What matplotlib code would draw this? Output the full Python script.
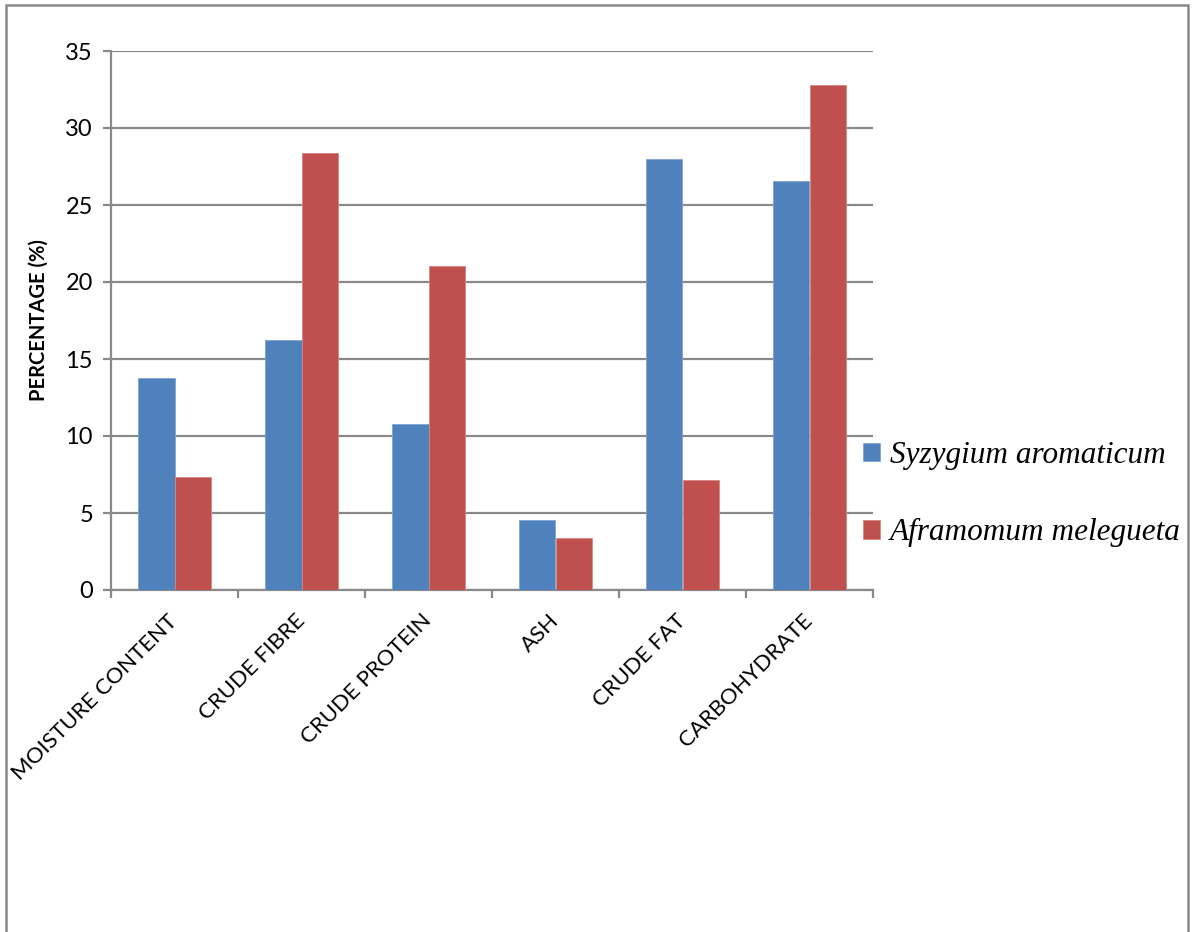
import matplotlib

matplotlib.use("Agg")
import matplotlib.pyplot as plt
import numpy as np
from matplotlib.patches import Rectangle

# proximate composition, % dry matter
CATEGORIES = ["MOISTURE CONTENT", "CRUDE FIBRE", "CRUDE PROTEIN", "ASH",
              "CRUDE FAT", "CARBOHYDRATE"]
SYZYGIUM = [13.75, 16.22, 10.78, 4.55, 27.98, 26.56]
AFRAMOMUM = [7.33, 28.35, 21.05, 3.35, 7.15, 32.78]
SERIES = ["Syzygium aromaticum", "Aframomum melegueta"]
COLOURS = ["#4F81BD", "#C0504D"]
GRID = "#898989"

plt.rcParams["font.family"] = ["Lato", "DejaVu Sans"]

W, H = 1194, 932
fig = plt.figure(figsize=(W / 100, H / 100), dpi=100)
ax = fig.add_axes([111 / W, 1 - 590 / H, (873 - 111) / W, (590 - 51) / H])

x = np.arange(len(CATEGORIES))
bw = 0.287
ax.bar(x - bw / 2, SYZYGIUM, bw, color=COLOURS[0], label=SERIES[0],
       edgecolor="#7fa3d0", linewidth=0.6, zorder=3)
ax.bar(x + bw / 2, AFRAMOMUM, bw, color=COLOURS[1], label=SERIES[1],
       edgecolor="#d68583", linewidth=0.6, zorder=3)

ax.set_xlim(-0.5, len(CATEGORIES) - 0.5)
ax.set_ylim(0, 35)
ax.set_yticks(range(0, 36, 5))
ax.yaxis.grid(True, color=GRID, lw=1.6, zorder=0)
ax.set_axisbelow(True)
for s in ("top", "right"):
    ax.spines[s].set_visible(False)
for s in ("left", "bottom"):
    ax.spines[s].set_color(GRID)
    ax.spines[s].set_linewidth(1.6)

ax.tick_params(axis="y", length=6, width=1.6, color=GRID, labelsize=17, pad=7)
ax.set_xticks(x)
ax.set_xticklabels(CATEGORIES, rotation=45, ha="right", va="center",
                   rotation_mode="anchor", fontsize=16)
ax.tick_params(axis="x", which="major", length=0, pad=20)
ax.set_xticks(np.arange(-0.5, len(CATEGORIES)), minor=True)
ax.tick_params(axis="x", which="minor", length=6, width=1.6, color=GRID)

ax.set_ylabel("PERCENTAGE (%)", fontsize=14.5, fontweight="bold", labelpad=12)

leg = ax.legend(loc="upper left", bbox_to_anchor=(863 / W, 1 - 441 / H),
                bbox_transform=fig.transFigure, frameon=False, borderpad=0,
                borderaxespad=0, handlelength=0.55, handleheight=0.55,
                handletextpad=0.3, labelspacing=1.55,
                prop={"family": "Liberation Serif", "style": "italic", "size": 22.5})

# outer chart-area border
fig.patches.append(Rectangle((6 / W, -0.05), (1188 - 6) / W, 1.05 - 5 / H,
                             transform=fig.transFigure, fill=False,
                             edgecolor=GRID, linewidth=1.8))

fig.savefig("out.png", dpi=100)
